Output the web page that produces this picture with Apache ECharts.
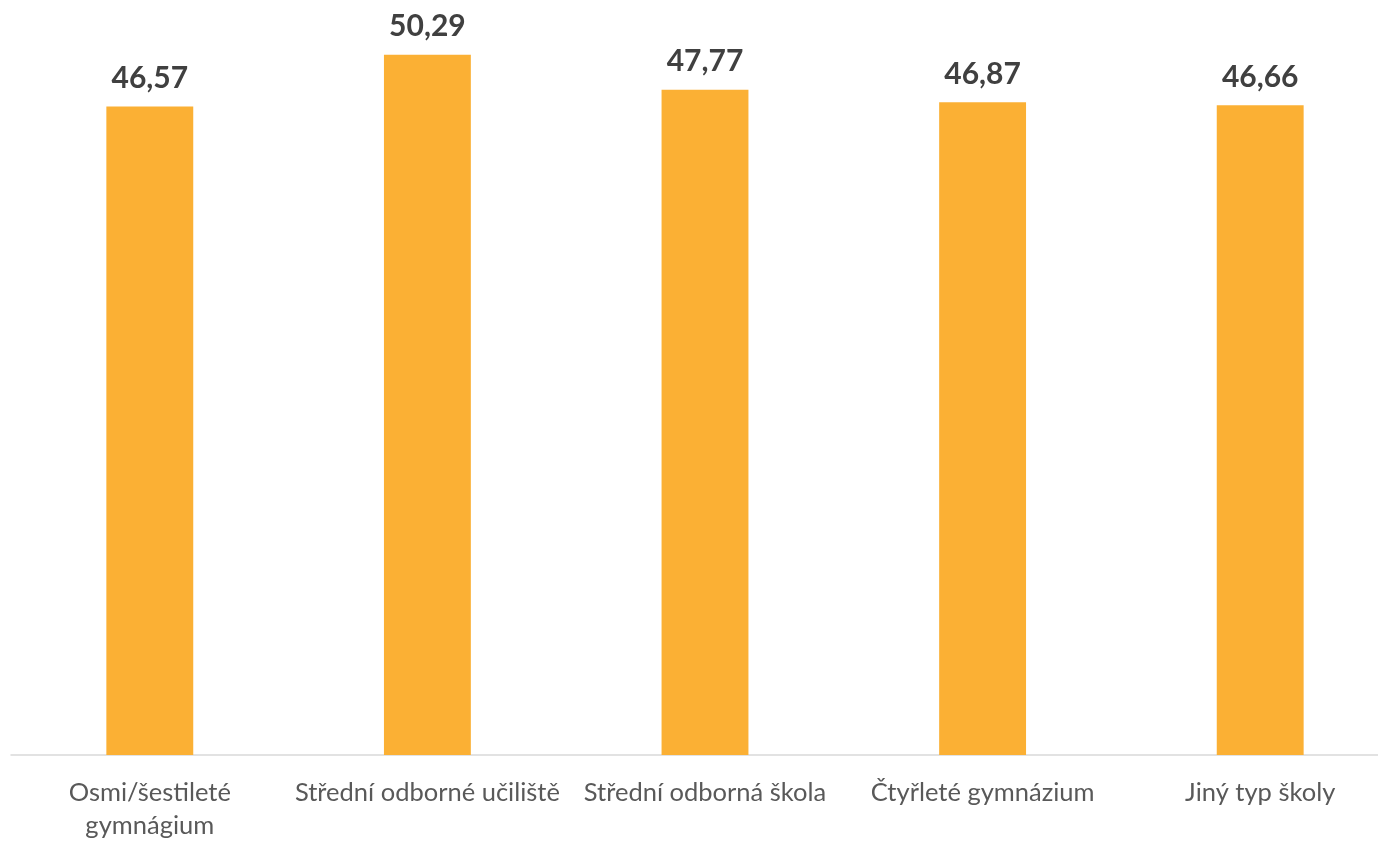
<!DOCTYPE html>
<html><head><meta charset="utf-8">
<script src="https://cdn.jsdelivr.net/npm/echarts@6/dist/echarts.min.js"></script>
<style>html,body{margin:0;padding:0;background:#fff}#c{width:1378px;height:841px}</style>
</head><body><div id="c"></div>
<script>
const categories = ['Osmi/šestileté\ngymnágium', 'Střední odborné učiliště', 'Střední odborná škola', 'Čtyřleté gymnázium', 'Jiný typ školy'];
const values = [46.57, 50.29, 47.77, 46.87, 46.66];
const chart = echarts.init(document.getElementById('c'));
chart.setOption({
  animation: false,
  grid: {left: 11, width: 1388, top: 3, bottom: 86, containLabel: false, outerBoundsMode: 'none'},
  xAxis: {
    type: 'category', data: categories,
    axisLine: {lineStyle: {color: '#d9d9d9', width: 1.5}},
    axisTick: {show: false},
    axisLabel: {color: '#595959', fontFamily: 'Lato, "Open Sans", sans-serif', fontSize: 25.5, lineHeight: 33, margin: 21, interval: 0}
  },
  yAxis: {type: 'value', min: 0, max: 54, show: false, splitLine: {show: false}},
  series: [{
    type: 'bar', data: values, barWidth: '31.3%',
    itemStyle: {color: '#FBB034'},
    label: {show: true, position: 'top', distance: 13, color: '#404040', fontWeight: 'bold', fontSize: 30,
      fontFamily: 'Lato, "Open Sans", sans-serif',
      formatter: p => p.value.toFixed(2).replace('.', ',')}
  }]
});
</script></body></html>
